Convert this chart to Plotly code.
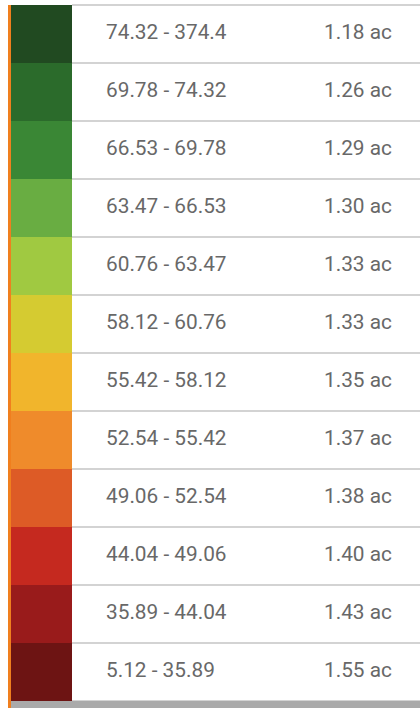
import plotly.graph_objects as go

# ---- data ----
range_labels = ["74.32 - 374.4", "69.78 - 74.32", "66.53 - 69.78", "63.47 - 66.53",
                "60.76 - 63.47", "58.12 - 60.76", "55.42 - 58.12", "52.54 - 55.42",
                "49.06 - 52.54", "44.04 - 49.06", "35.89 - 44.04", "5.12 - 35.89"]
area_values = [1.18, 1.26, 1.29, 1.30, 1.33, 1.33, 1.35, 1.37, 1.38, 1.40, 1.43, 1.55]
area_unit = "ac"
swatch_colors = ["#214a21", "#2b6b2b", "#3a8735", "#69ad42", "#a0c941", "#d5cb31",
                 "#f1b52c", "#ef8b2b", "#dd5b26", "#c5291f", "#991b1b", "#6d1413"]

# ---- layout constants (pixels) ----
W, H = 420, 708
TOP = 5
ROW_H = 58
n = len(range_labels)
rows = list(range(n))
y_top = -0.5 - TOP / ROW_H
y_bot = y_top + H / ROW_H

fig = go.Figure()

# colour swatches
fig.add_trace(go.Bar(
    y=rows, x=[61] * n, base=[11] * n, orientation="h", width=1.0,
    marker=dict(color=swatch_colors, line=dict(width=0)),
    hoverinfo="skip", showlegend=False,
))

# range labels
fig.add_trace(go.Scatter(
    y=rows, x=[106] * n, mode="text", text=range_labels,
    textposition="middle right",
    textfont=dict(family="Roboto", size=20.8, color="#686868"),
    hoverinfo="skip", showlegend=False,
))

# area values
fig.add_trace(go.Scatter(
    y=rows, x=[324] * n, mode="text",
    text=[f"{v:.2f} {area_unit}" for v in area_values],
    textposition="middle right",
    textfont=dict(family="Roboto", size=20.8, color="#686868"),
    hoverinfo="skip", showlegend=False,
))

shapes = []
# row separators
for i in range(n + 1):
    shapes.append(dict(type="line", xref="x", yref="y", x0=72, x1=W,
                       y0=i - 0.5, y1=i - 0.5,
                       line=dict(color="#c4c4c4", width=1.5), layer="above"))
# grey footer bar
shapes.append(dict(type="rect", xref="x", yref="y", x0=11, x1=W,
                   y0=n - 0.5, y1=y_bot, fillcolor="#aaaaaa",
                   line=dict(width=0), layer="above"))
# orange left rule
shapes.append(dict(type="rect", xref="x", yref="y", x0=8, x1=11,
                   y0=-0.5, y1=y_bot, fillcolor="#f07f1e",
                   line=dict(width=0), layer="above"))

fig.update_layout(
    width=W, height=H,
    margin=dict(l=0, r=0, t=0, b=0),
    paper_bgcolor="white", plot_bgcolor="white",
    xaxis=dict(range=[0, W], visible=False, fixedrange=True),
    yaxis=dict(range=[y_bot, y_top], visible=False, fixedrange=True),
    shapes=shapes, bargap=0,
)

fig.write_html("out.html", config={"displayModeBar": False},
               post_script="document.body.style.margin='0';document.body.style.overflow='hidden';")
